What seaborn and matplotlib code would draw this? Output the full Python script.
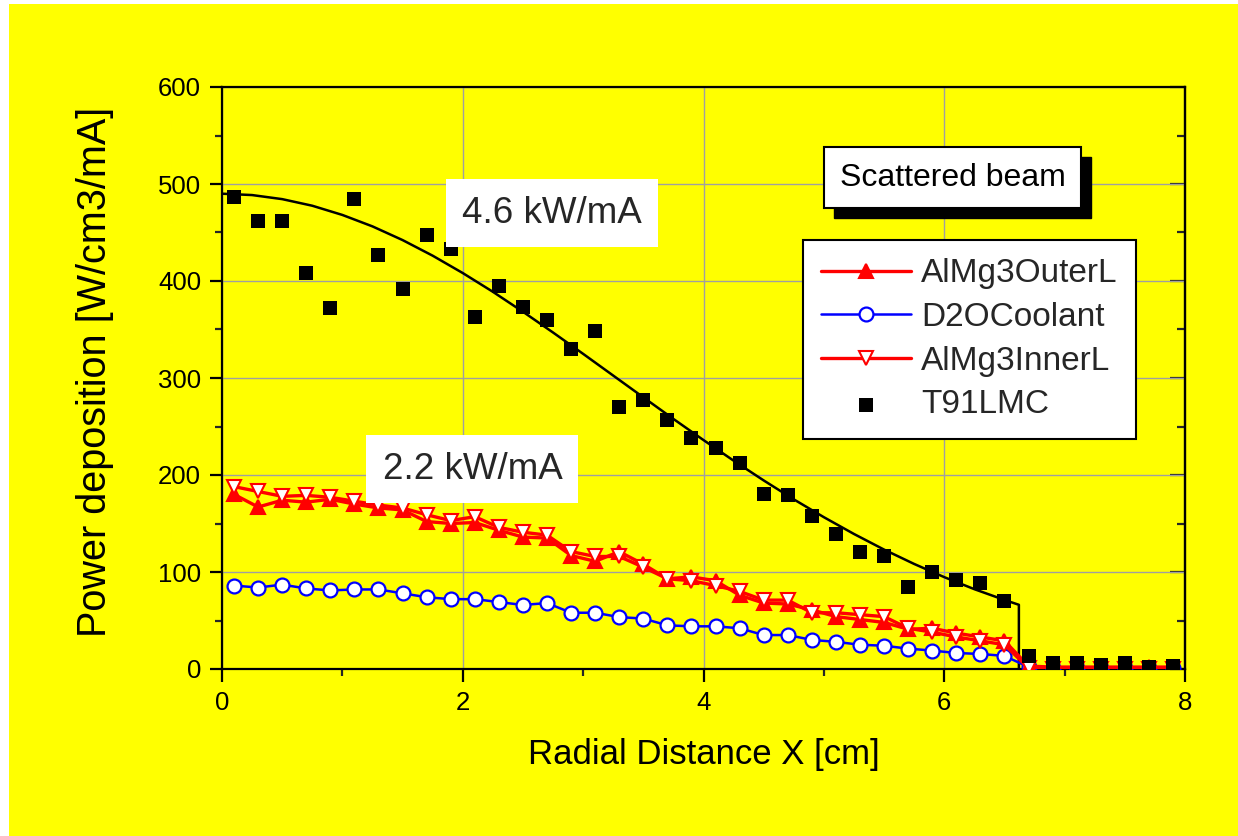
import matplotlib
matplotlib.use("Agg")
import matplotlib.pyplot as plt
import seaborn as sns
from matplotlib.patches import Rectangle
from matplotlib.ticker import MultipleLocator
import matplotlib.transforms as mtransforms

# ---------------- data ----------------
x_pos = [0.1, 0.3, 0.5, 0.7, 0.9, 1.1, 1.3, 1.5, 1.7, 1.9,
         2.1, 2.3, 2.5, 2.7, 2.9, 3.1, 3.3, 3.5, 3.7, 3.9,
         4.1, 4.3, 4.5, 4.7, 4.9, 5.1, 5.3, 5.5, 5.7, 5.9,
         6.1, 6.3, 6.5, 6.7, 6.9, 7.1, 7.3, 7.5, 7.7, 7.9]

t91lmc = [487, 462, 462, 408, 372, 485, 427, 392, 447, 433,
          363, 395, 373, 360, 330, 348, 270, 277, 257, 238,
          228, 212, 180, 179, 158, 139, 121, 116, 85, 100,
          92, 89, 70, 13, 6, 6.5, 4, 6, 2.5, 3.5]

almg3_outer = [180, 167, 174, 172, 175, 170, 166, 164, 152, 150,
               151, 143, 136, 135, 117, 111, 121, 108, 93, 95,
               91, 76, 68, 67, 61, 54, 51, 48, 41, 42,
               37, 33, 29, 3, 2, 2, 2, 2, 2, 2]

almg3_inner = [188, 183, 178, 179, 177, 173, 169, 166, 159, 153,
               157, 146, 141, 138, 121, 116, 116, 105, 93, 91,
               86, 80, 71, 71, 58, 58, 56, 54, 42, 38,
               33, 29, 25, 1, 0.5, 0.5, 0.5, 0.5, 0.5, 0.5]

d2o_coolant = [86, 84, 87, 83, 81, 82, 82, 78, 74, 72,
               72, 69, 66, 68, 58, 58, 53.5, 52, 45, 44,
               44, 42, 35, 35, 30, 28, 25, 24, 21, 19,
               16.5, 15.5, 13.5, 2, 1, 1, 1, 1, 1, 1]

# fitted curve for T91LMC
fit_x = [0, 0.25, 0.5, 0.75, 1.0, 1.25, 1.5, 1.75, 2.0, 2.25,
         2.5, 2.75, 3.0, 3.25, 3.5, 3.75, 4.0, 4.25, 4.5, 4.75,
         5.0, 5.25, 5.5, 5.75, 6.0, 6.25, 6.5, 6.62, 6.62]
fit_y = [490, 488.6, 484.4, 477.6, 468.1, 456.3, 442.2, 426.1, 408.2, 388.9,
         368.3, 346.9, 324.9, 302.5, 280.1, 257.8, 236.0, 214.8, 194.4, 174.9,
         156.5, 139.2, 123.1, 108.3, 94.7, 82.3, 71.2, 66.2, 0]

x_ticks = [0, 2, 4, 6, 8]
y_ticks = [0, 100, 200, 300, 400, 500, 600]
series_labels = ["AlMg3OuterL", "D2OCoolant", "AlMg3InnerL", "T91LMC"]

# ---------------- style ----------------
sns.set_theme(style="ticks")
plt.rcParams["font.family"] = ["Liberation Sans", "DejaVu Sans"]
YELLOW = "#ffff00"

W, H = 1238, 836
fig = plt.figure(figsize=(W / 100, H / 100), dpi=100, facecolor="white")
fig.add_artist(Rectangle((9 / W, 0), 1 - 9 / W, 1 - 4 / H,
                         transform=fig.transFigure, facecolor=YELLOW,
                         edgecolor="none", zorder=-10))

ax = fig.add_axes([222 / W, (H - 669) / H, 963 / W, 582 / H])
ax.set_facecolor(YELLOW)

# fit line
sns.lineplot(x=fit_x, y=fit_y, estimator=None, sort=False, color="black",
             linewidth=1.8, ax=ax, legend=False, zorder=2)

# series
sns.lineplot(x=x_pos, y=d2o_coolant, estimator=None, color="blue",
             linewidth=1.8, marker="o", markersize=10,
             markerfacecolor="white", markeredgecolor="blue",
             markeredgewidth=1.6, label=series_labels[1], ax=ax, zorder=3)
sns.lineplot(x=x_pos, y=almg3_outer, estimator=None, color="red",
             linewidth=2.4, marker="^", markersize=10,
             markerfacecolor="red", markeredgecolor="red",
             markeredgewidth=1.5, label=series_labels[0], ax=ax, zorder=4)
sns.lineplot(x=x_pos, y=almg3_inner, estimator=None, color="red",
             linewidth=2.4, marker="v", markersize=10,
             markerfacecolor="white", markeredgecolor="red",
             markeredgewidth=1.5, label=series_labels[2], ax=ax, zorder=5)
sns.scatterplot(x=x_pos, y=t91lmc, marker="s", s=90, color="black",
                edgecolor="black", linewidth=0, label=series_labels[3],
                ax=ax, zorder=6)

# axes
ax.set_xlim(0, 8)
ax.set_ylim(0, 600)
ax.set_xticks(x_ticks)
ax.set_yticks(y_ticks)
ax.xaxis.set_minor_locator(MultipleLocator(1))
ax.yaxis.set_minor_locator(MultipleLocator(50))
ax.grid(True, which="major", color="#a0a0a0", linewidth=1.0)
ax.set_axisbelow(True)
for side in ["left", "bottom", "right", "top"]:
    ax.spines[side].set_visible(True)
    ax.spines[side].set_color("black")
    ax.spines[side].set_linewidth(1.6)
ax.tick_params(which="major", direction="out", length=9, width=1.6,
               labelsize=18.5, colors="black", pad=6,
               top=False, right=False)
ax.tick_params(axis="x", which="major", pad=7)
ax.tick_params(which="minor", direction="out", length=5, width=1.6,
               top=False, right=False)

sec = ax.secondary_yaxis("right")
sec.set_yticks(y_ticks)
sec.yaxis.set_minor_locator(MultipleLocator(50))
sec.tick_params(which="major", direction="in", length=11, width=1.6,
                labelright=False)
sec.tick_params(which="minor", direction="in", length=6, width=1.6)
sec.spines["right"].set_linewidth(1.6)

ax.set_xlabel("Radial Distance X [cm]", fontsize=25, color="black")
ax.set_ylabel("Power deposition [W/cm3/mA]", fontsize=28.5, color="black")
ax.xaxis.set_label_coords(0.5, (669 - 738) / 582)
ax.yaxis.set_label_coords((114 - 222) / 963, (669 - 372) / 582)

# annotations
ax.text(2.74, 470, "4.6 kW/mA", fontsize=26.5, ha="center", va="center",
        zorder=7, bbox=dict(boxstyle="square,pad=0.44", facecolor="white",
                            edgecolor="none"))
ax.text(2.08, 206, "2.2 kW/mA", fontsize=26.5, ha="center", va="center",
        zorder=7, bbox=dict(boxstyle="square,pad=0.44", facecolor="white",
                            edgecolor="none"))

sx, sy = (952.5 - 222) / 963, (669 - 177.5) / 582
beam = ax.text(sx, sy, "Scattered beam", fontsize=23, ha="center",
               va="center", transform=ax.transAxes, color="black", zorder=9,
               bbox=dict(boxstyle="square,pad=0.5", facecolor="white",
                         edgecolor="black", linewidth=1.5))

# legend
handles, labels = ax.get_legend_handles_labels()
hmap = dict(zip(labels, handles))
leg = ax.legend([hmap[l] for l in series_labels], series_labels,
                loc="upper left",
                bbox_to_anchor=((803 - 222) / 963, (669 - 240) / 582),
                borderaxespad=0, fontsize=24, frameon=True, fancybox=False,
                framealpha=1, edgecolor="black", facecolor="white",
                numpoints=1, scatterpoints=1, handlelength=2.7,
                handletextpad=0.3, labelspacing=0.38, borderpad=0.55)
leg.get_frame().set_linewidth(1.5)
leg.set_zorder(10)

# drop shadow behind the "Scattered beam" box
fig.canvas.draw()
bb = beam.get_bbox_patch().get_window_extent()
shadow = Rectangle((bb.x0 + 10, bb.y0 - 10), bb.width, bb.height,
                   transform=mtransforms.IdentityTransform(),
                   facecolor="black", edgecolor="black", zorder=8)
ax.add_artist(shadow)

fig.savefig("out.png", dpi=100, facecolor=fig.get_facecolor())
